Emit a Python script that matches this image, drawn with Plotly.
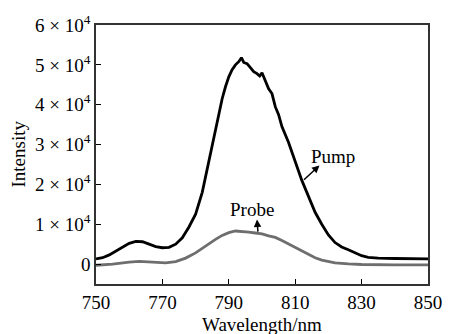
import plotly.graph_objects as go

pump_wl = [750, 752, 754, 756, 758, 760, 762, 764, 766, 768, 770, 772, 774, 776, 778,
           780, 782, 784, 786, 788, 789, 790, 791, 792, 793, 793.8, 794.5, 795.5, 796.5,
           797.5, 798.5, 799.3, 800, 801, 802, 803, 804, 805, 806, 808, 810, 812, 814,
           816, 818, 820, 822, 824, 826, 828, 830, 832, 835, 840, 845, 850]
pump_int = [1300, 1600, 2300, 3200, 4300, 5200, 5700, 5600, 5000, 4400, 4100, 4200, 5000, 6600, 9300,
            12500, 18000, 26000, 34000, 41500, 44500, 47000, 48800, 50000, 50800, 51800, 50600, 50300, 49300,
            48300, 47800, 47200, 48000, 46200, 44000, 42800, 39500, 37500, 34500, 30500, 25500, 21000, 17000,
            13000, 10000, 7300, 5400, 4300, 3600, 2800, 2100, 1700, 1500, 1400, 1350, 1300]

probe_wl = [750, 755, 760, 763, 767, 771, 774, 777, 780, 782, 784, 786, 788, 790, 792, 794,
            796, 798, 800, 802, 804, 806, 808, 810, 812, 814, 816, 818, 820, 822, 826, 830, 840, 850]
probe_int = [-300, 0, 500, 700, 500, 300, 600, 1500, 2800, 4000, 5200, 6200, 7200, 7900, 8300, 8200,
             8000, 7800, 7600, 7100, 6700, 5900, 5000, 4200, 3300, 2400, 1600, 1000, 600, 300, 50, -100, -200, -200]

x_ticks = [750, 770, 790, 810, 830, 850]
y_ticks = [0, 10000, 20000, 30000, 40000, 50000, 60000]
y_ticktext = ["0"] + [f"{k} \u00d7 10<sup>4</sup>" for k in range(1, 7)]

FONT = "Liberation Serif"
FS = 19

fig = go.Figure()
fig.add_trace(go.Scatter(x=probe_wl, y=probe_int, mode="lines",
                         line=dict(color="#6e6e6e", width=2.8), showlegend=False))
fig.add_trace(go.Scatter(x=pump_wl, y=pump_int, mode="lines",
                         line=dict(color="#000000", width=2.8), showlegend=False))

fig.update_layout(
    width=454, height=334,
    margin=dict(l=96, r=17, t=20, b=50),
    paper_bgcolor="white", plot_bgcolor="white",
    font=dict(family=FONT, size=FS, color="black"),
    xaxis=dict(range=[750, 850], tickvals=x_ticks, ticks="inside", ticklen=5,
               tickcolor="black", showgrid=False, zeroline=False,
               showline=True, linecolor="#333", linewidth=1.5, mirror=True),
    yaxis=dict(range=[-5000, 60000], tickvals=y_ticks, ticktext=y_ticktext,
               ticks="inside", ticklen=5, tickcolor="black", showgrid=False,
               zeroline=False, showline=True, linecolor="#333", linewidth=1.5, mirror=True),
)

fig.add_annotation(text="Wavelength/nm", xref="paper", yref="paper", x=0.5, y=0,
                   xanchor="center", yanchor="middle", yshift=-40, showarrow=False,
                   font=dict(family=FONT, size=FS))
fig.add_annotation(text="Intensity", xref="paper", yref="paper", x=0, y=0.5,
                   xanchor="center", yanchor="middle", xshift=-78, textangle=-90,
                   showarrow=False, font=dict(family=FONT, size=FS))

# labels
fig.add_annotation(text="Pump", x=821.5, y=27000, showarrow=False, font=dict(family=FONT, size=FS))
fig.add_annotation(text="Probe", x=797, y=13700, showarrow=False, font=dict(family=FONT, size=FS))
# arrows
fig.add_annotation(text="", x=817.3, y=24750, ax=812.2, ay=20800, axref="x", ayref="y",
                   showarrow=True, arrowhead=2, arrowsize=1, arrowwidth=1.5, arrowcolor="black")
fig.add_annotation(text="", x=798.5, y=11200, ax=798.8, ay=7760, axref="x", ayref="y",
                   showarrow=True, arrowhead=2, arrowsize=1, arrowwidth=1.5, arrowcolor="black")

fig.write_html("out.html")
